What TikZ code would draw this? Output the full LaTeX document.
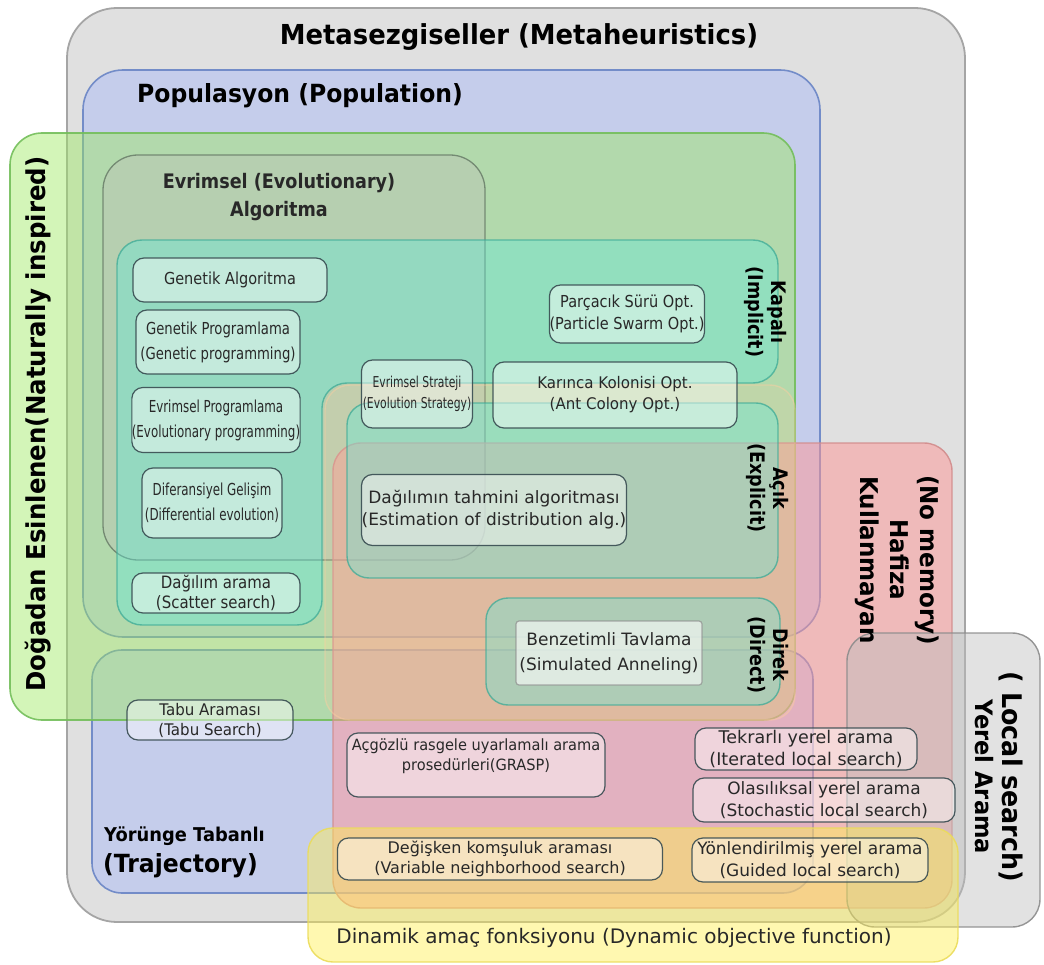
\documentclass[tikz,border=0pt]{standalone}
\usepackage{fontspec}
\setmainfont{DejaVu Sans}
\newfontfamily\sA[FakeStretch=0.72]{DejaVu Sans}
\newfontfamily\sB[FakeStretch=0.8]{DejaVu Sans}
\newfontfamily\sC[FakeStretch=0.88]{DejaVu Sans}
\newfontfamily\sD[FakeStretch=0.94]{DejaVu Sans}
\definecolor{cMeta}{RGB}{224,224,224}
\definecolor{cMetaL}{RGB}{165,165,165}
\definecolor{cPop}{RGB}{197,205,235}
\definecolor{cPopL}{RGB}{115,140,200}
\definecolor{cNat}{RGB}{157,233,97}
\definecolor{cNatL}{RGB}{115,190,90}
\definecolor{cEvo}{RGB}{190,190,185}
\definecolor{cEvoL}{RGB}{100,120,100}
\definecolor{cRed}{RGB}{255,150,150}
\definecolor{cRedL}{RGB}{210,140,140}
\definecolor{cPeach}{RGB}{255,205,160}
\definecolor{cCyan}{RGB}{95,235,220}
\definecolor{cCyanL}{RGB}{60,170,150}
\definecolor{cLoc}{RGB}{190,190,190}
\definecolor{cLocL}{RGB}{140,140,140}
\definecolor{cYel}{RGB}{255,240,80}
\definecolor{cYelL}{RGB}{235,220,90}
\definecolor{cBox}{RGB}{55,75,80}
\definecolor{cTxt}{RGB}{40,40,40}
\tikzset{
  metareg/.style={fill=cMeta, draw=cMetaL, line width=1.8pt, rounded corners=50pt},
  popreg/.style={fill=cPop, draw=cPopL, line width=1.6pt, rounded corners=40pt},
  trajreg/.style={fill=cPop, draw=cPopL, line width=1.6pt, rounded corners=30pt},
  natreg/.style={fill=cNat, fill opacity=0.45, draw=cNatL, draw opacity=0.9, line width=1.6pt, rounded corners=32pt},
  evoreg/.style={fill=cEvo, fill opacity=0.35, draw=cEvoL, draw opacity=0.8, line width=1.3pt, rounded corners=35pt},
  redreg/.style={fill=cRed, fill opacity=0.5, draw=cRedL, draw opacity=0.9, line width=1.4pt, rounded corners=28pt},
  peachreg/.style={fill=cPeach, fill opacity=0.18, draw=cPeach, draw opacity=0.45, line width=1.4pt, rounded corners=25pt},
  cyanreg/.style={fill=cCyan, fill opacity=0.38, draw=cCyanL, draw opacity=0.75, line width=1.4pt, rounded corners=25pt},
  locreg/.style={fill=cLoc, fill opacity=0.45, draw=cLocL, draw opacity=0.9, line width=1.4pt, rounded corners=28pt},
  yelreg/.style={fill=cYel, fill opacity=0.45, draw=cYelL, draw opacity=0.9, line width=1.4pt, rounded corners=25pt},
  algbox/.style={draw=cBox, line width=1.2pt, fill=white, fill opacity=0.45, text opacity=1, draw opacity=0.9,
    text=cTxt, rounded corners=11pt, inner sep=0pt, align=center},
  lab/.style={text=black, inner sep=0pt, align=center},
}
\begin{document}
\begin{tikzpicture}[x=1pt,y=-1pt]
\useasboundingbox (0,0) rectangle (1044,965);
% regions
\filldraw[metareg] (67,8) rectangle (965,922);
\filldraw[popreg] (83,70) rectangle (820,637);
\filldraw[trajreg] (92,650) rectangle (813,893);
\filldraw[natreg] (10,133) rectangle (795,720);
\filldraw[evoreg] (103,155) rectangle (485,560);
\filldraw[redreg] (333,443) rectangle (952,908);
\filldraw[peachreg] (325,385) rectangle (795,720);
\filldraw[cyanreg] (117,240) -- (778,240) -- (778,383) -- (322,383) -- (322,625) -- (117,625) -- cycle;
\filldraw[cyanreg, rounded corners=22pt] (347,403) rectangle (778,578);
\filldraw[cyanreg, rounded corners=22pt] (486,598) rectangle (780,705);
\filldraw[locreg] (847,633) rectangle (1040,927);
\filldraw[yelreg] (308,828) rectangle (958,962);
% region labels
\node[lab, font=\sD\bfseries\fontsize{27.5}{32}\selectfont] (title) at (519,37) {Metasezgiseller (Metaheuristics)};
\node[lab, font=\sD\bfseries\fontsize{25}{30}\selectfont] (poplab) at (300,96) {Populasyon (Population)};
\node[lab, font=\sC\bfseries\fontsize{20}{28}\selectfont, text=cTxt] (evolab) at (279,197) {Evrimsel (Evolutionary)\\Algoritma};
\node[lab, font=\sD\bfseries\fontsize{26}{30}\selectfont, rotate=90] (natlab) at (38,424) {Doğadan Esinlenen(Naturally inspired)};
\node[lab, font=\sC\bfseries\fontsize{20}{23}\selectfont, rotate=-90] (implab) at (766,312) {Kapalı\\(Implicit)};
\node[lab, font=\sC\bfseries\fontsize{20}{23}\selectfont, rotate=-90] (explab) at (768,488) {Açık\\(Explicit)};
\node[lab, font=\sC\bfseries\fontsize{20}{23}\selectfont, rotate=-90] (dirlab) at (768,655) {Direk\\(Direct)};
\node[lab, font=\sD\bfseries\fontsize{24.5}{30}\selectfont, rotate=-90] (memlab) at (897,560) {(No memory)\\Hafiza\\Kullanmayan};
\node[lab, font=\sD\bfseries\fontsize{24}{27}\selectfont, rotate=-90] (loclab) at (999,777) {{\fontsize{27}{27}\selectfont( Local search)}\\Yerel Arama};
\node[lab, anchor=west, font=\sD\bfseries\fontsize{19}{22}\selectfont] (trajlab1) at (104,836) {Yörünge Tabanlı};
\node[lab, anchor=west, font=\sD\bfseries\fontsize{25}{28}\selectfont] (trajlab2) at (103,866) {(Trajectory)};
\node[lab, font=\fontsize{20}{24}\selectfont, text=cTxt] (dynlab) at (614,938) {Dinamik amaç fonksiyonu (Dynamic objective function)};
% algorithm boxes
\node[algbox, minimum width=194, minimum height=44, font=\sC\fontsize{16.5}{22}\selectfont] (ga) at (230,280) {Genetik Algoritma};
\node[algbox, minimum width=164, minimum height=64, font=\sB\fontsize{16.5}{25}\selectfont] (gp) at (218,342) {Genetik Programlama\\(Genetic programming)};
\node[algbox, minimum width=162, minimum height=65, font=\sA\fontsize{16.5}{25}\selectfont] (ep) at (216,420) {Evrimsel Programlama\\(Evolutionary programming)};
\node[algbox, minimum width=140, minimum height=70, font=\sA\fontsize{16.5}{25}\selectfont] (de) at (212,503) {Diferansiyel Gelişim\\(Differential evolution)};
\node[algbox, minimum width=168, minimum height=40, font=\sC\fontsize{17}{20}\selectfont] (ss) at (216,593) {Dağılım arama\\(Scatter search)};
\node[algbox, minimum width=111, minimum height=68, font=\sA\fontsize{15}{21}\selectfont] (es) at (417,394) {Evrimsel Strateji\\(Evolution Strategy)};
\node[algbox, minimum width=155, minimum height=58, font=\sC\fontsize{16.5}{22}\selectfont] (pso) at (627,314) {Parçacık Sürü Opt.\\(Particle Swarm Opt.)};
\node[algbox, minimum width=244, minimum height=66, font=\sD\fontsize{16}{21}\selectfont] (aco) at (615,395) {Karınca Kolonisi Opt.\\(Ant Colony Opt.)};
\node[algbox, minimum width=265, minimum height=71, font=\fontsize{17}{22}\selectfont] (eda) at (494,510) {Dağılımın tahmini algoritması\\(Estimation of distribution alg.)};
\node[algbox, minimum width=186, minimum height=64, font=\fontsize{17}{25}\selectfont, rounded corners=3pt, draw=cLocL, draw opacity=0.7, fill opacity=0.6] (sa) at (609,653) {Benzetimli Tavlama\\(Simulated Anneling)};
\node[algbox, minimum width=166, minimum height=40, font=\sD\fontsize{16}{20}\selectfont] (tabu) at (210,720) {Tabu Araması\\(Tabu Search)};
\node[algbox, minimum width=258, minimum height=64, font=\sD\fontsize{15.5}{20}\selectfont] (grasp) at (476,765) {\parbox[t][52pt][t]{250pt}{\centering Açgözlü rasgele uyarlamalı arama\\prosedürleri(GRASP)}};
\node[algbox, minimum width=325, minimum height=42, font=\fontsize{16}{20}\selectfont] (vns) at (500,859) {Değişken komşuluk araması\\(Variable neighborhood search)};
\node[algbox, minimum width=222, minimum height=42, font=\fontsize{17.5}{22}\selectfont] (ils) at (806,749) {Tekrarlı yerel arama\\(Iterated local search)};
\node[algbox, minimum width=262, minimum height=44, font=\fontsize{17}{22}\selectfont] (sls) at (824,800) {Olasılıksal yerel arama\\(Stochastic local search)};
\node[algbox, minimum width=236, minimum height=44, font=\fontsize{17}{22}\selectfont] (gls) at (810,860) {Yönlendirilmiş yerel arama\\(Guided local search)};
\end{tikzpicture}
\end{document}
